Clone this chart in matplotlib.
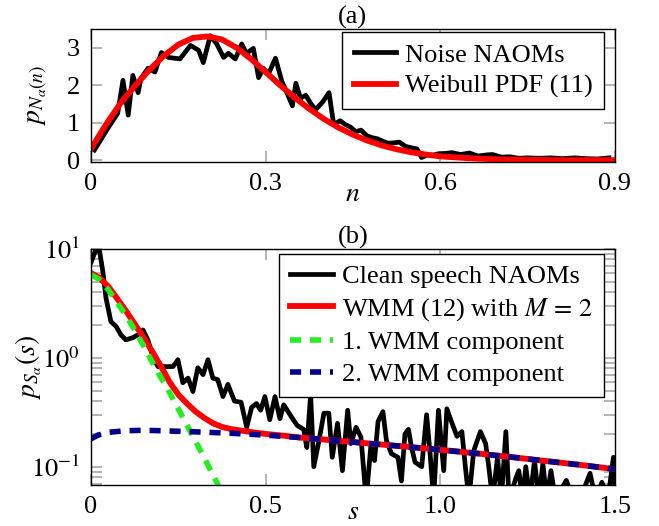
import matplotlib
matplotlib.use('Agg')
import matplotlib.pyplot as plt
from matplotlib.ticker import FixedLocator, LogLocator, NullFormatter, FixedFormatter

# ---------------- data: panel (a) ----------------
noise_n = [0.006, 0.029, 0.046, 0.055, 0.064, 0.072, 0.081, 0.086, 0.098, 0.11,
           0.121, 0.133, 0.153, 0.171, 0.185, 0.193, 0.205, 0.216, 0.228, 0.236,
           0.248, 0.259, 0.267, 0.279, 0.288, 0.296, 0.305, 0.317, 0.328, 0.338,
           0.346, 0.352, 0.36, 0.369, 0.378, 0.386, 0.398, 0.409, 0.417, 0.428,
           0.437, 0.446, 0.455, 0.464, 0.474, 0.483, 0.492, 0.502, 0.511, 0.52,
           0.53, 0.54, 0.55, 0.56, 0.568, 0.578, 0.587, 0.597, 0.61, 0.62,
           0.635, 0.65, 0.665, 0.68, 0.69, 0.705, 0.72, 0.735, 0.75, 0.77,
           0.79, 0.81, 0.83, 0.85, 0.87, 0.89]
noise_p = [0.27, 0.85, 1.25, 2.13, 1.2, 2.26, 1.8, 2.18, 2.45, 2.35,
           2.87, 2.74, 2.7, 3.06, 2.93, 2.6, 3.32, 3.1, 2.74, 2.85,
           2.7, 3.1, 2.85, 2.98, 2.2, 2.45, 2.3, 2.72, 2.1, 1.75,
           1.45, 2.05, 1.65, 1.73, 1.5, 1.35, 1.55, 1.8, 0.95, 1.05,
           0.95, 0.88, 0.76, 0.8, 0.65, 0.6, 0.57, 0.5, 0.45, 0.46,
           0.48, 0.37, 0.33, 0.3, 0.07, 0.14, 0.13, 0.17, 0.18, 0.2,
           0.15, 0.19, 0.11, 0.14, 0.15, 0.08, 0.09, 0.05, 0.06, 0.05,
           0.06, 0.04, 0.06, 0.04, 0.03, 0.06]

weib_n = [0.0, 0.025, 0.05, 0.075, 0.1, 0.125, 0.15, 0.175, 0.2, 0.225,
          0.25, 0.275, 0.3, 0.325, 0.35, 0.375, 0.4, 0.425, 0.45, 0.475,
          0.5, 0.525, 0.55, 0.575, 0.6, 0.65, 0.7, 0.75, 0.8, 0.85, 0.9]
weib_p = [0.3, 0.93, 1.5, 1.97, 2.4, 2.78, 3.08, 3.26, 3.3, 3.22,
          3.0, 2.7, 2.35, 2.0, 1.67, 1.37, 1.1, 0.87, 0.68, 0.52,
          0.39, 0.29, 0.21, 0.15, 0.1, 0.05, 0.02, 0.01, 0.0, 0.0, 0.0]

# ---------------- data: panel (b) ----------------
speech_s = [0.001, 0.015, 0.025, 0.034, 0.043, 0.057, 0.072, 0.086, 0.1, 0.12,
            0.134, 0.149, 0.163, 0.178, 0.192, 0.211, 0.235, 0.249, 0.263, 0.278,
            0.292, 0.306, 0.321, 0.335, 0.349, 0.363, 0.378, 0.392, 0.411, 0.43,
            0.446, 0.46, 0.474, 0.486, 0.498, 0.512, 0.527, 0.541, 0.552, 0.57,
            0.59, 0.609, 0.618, 0.629, 0.638, 0.653, 0.667, 0.681, 0.691, 0.706,
            0.72, 0.735, 0.744, 0.759, 0.773, 0.788, 0.802, 0.812, 0.822, 0.836,
            0.846, 0.86, 0.879, 0.889, 0.899, 0.909, 0.918, 0.928, 0.947, 0.961,
            0.971, 0.981, 0.995, 1.01, 1.019, 1.034, 1.048, 1.062, 1.072, 1.082,
            1.096, 1.115, 1.13, 1.139, 1.15, 1.164, 1.175, 1.188, 1.197, 1.217,
            1.225, 1.235, 1.245, 1.257, 1.27, 1.282, 1.294, 1.305, 1.317, 1.33,
            1.361, 1.38, 1.4, 1.429, 1.445, 1.463, 1.48, 1.496, 1.5]
speech_p = [7.6, 10.0, 9.4, 6.2, 3.55, 2.15, 1.94, 1.62, 1.46, 1.53,
            1.62, 1.8, 1.46, 1.0, 0.83, 0.83, 0.83, 0.96, 0.59, 0.65,
            0.49, 0.81, 0.70, 0.96, 0.65, 0.63, 0.44, 0.57, 0.40, 0.39,
            0.23, 0.35, 0.38, 0.33, 0.44, 0.27, 0.44, 0.276, 0.37, 0.3,
            0.24, 0.22, 0.15, 0.46, 0.1, 0.174, 0.31, 0.31, 0.122, 0.25,
            0.092, 0.33, 0.163, 0.23, 0.187, 0.05, 0.163, 0.114, 0.26, 0.32,
            0.174, 0.132, 0.122, 0.074, 0.2, 0.22, 0.15, 0.11, 0.1, 0.3,
            0.132, 0.05, 0.33, 0.092, 0.34, 0.25, 0.19, 0.21, 0.1, 0.05,
            0.14, 0.21, 0.163, 0.1, 0.05, 0.122, 0.05, 0.21, 0.05, 0.079,
            0.092, 0.05, 0.1, 0.05, 0.114, 0.05, 0.107, 0.05, 0.092, 0.05,
            0.075, 0.05, 0.05, 0.087, 0.05, 0.072, 0.05, 0.122, 0.07]

wmm_s = [0.0, 0.025, 0.05, 0.075, 0.1, 0.125, 0.15, 0.175, 0.2, 0.225,
         0.25, 0.275, 0.3, 0.325, 0.35, 0.375, 0.4, 0.45, 0.5, 0.55,
         0.6, 0.7, 0.8, 0.9, 1.0, 1.1, 1.2, 1.3, 1.4, 1.5]
wmm_p = [6.0, 5.4, 4.5, 3.5, 2.7, 2.05, 1.55, 1.15, 0.84, 0.6,
         0.46, 0.38, 0.32, 0.28, 0.25, 0.232, 0.222, 0.21, 0.2, 0.193,
         0.185, 0.174, 0.163, 0.153, 0.143, 0.133, 0.123, 0.113, 0.104, 0.095]

comp1_s = [0.0, 0.025, 0.05, 0.075, 0.1, 0.125, 0.15, 0.175, 0.2, 0.225,
           0.25, 0.275, 0.3, 0.325, 0.35, 0.375]
comp1_p = [5.8, 5.2, 4.2, 3.2, 2.45, 1.8, 1.3, 0.92, 0.66, 0.48,
           0.34, 0.24, 0.17, 0.12, 0.083, 0.058]

comp2_s = [0.0, 0.02, 0.05, 0.1, 0.15, 0.2, 0.3, 0.4, 0.5, 0.6,
           0.7, 0.8, 0.9, 1.0, 1.1, 1.2, 1.3, 1.4, 1.5]
comp2_p = [0.18, 0.195, 0.207, 0.214, 0.216, 0.214, 0.209, 0.203, 0.195, 0.185,
           0.174, 0.163, 0.153, 0.143, 0.133, 0.123, 0.113, 0.104, 0.095]

# ---------------- style ----------------
FS = 19
plt.rcParams['font.family'] = ['Liberation Serif', 'DejaVu Serif']
plt.rcParams['mathtext.fontset'] = 'stix'
plt.rcParams['font.size'] = FS

RED = '#ff0000'
GREEN = '#22ee22'
BLUE = '#00008c'
TICKC = '#a8a8a8'

fig = plt.figure(figsize=(6.59, 5.26), dpi=100)
ax1 = fig.add_axes([0.138, 0.692, 0.795, 0.253])
ax2 = fig.add_axes([0.138, 0.078, 0.795, 0.449])

for ax in (ax1, ax2):
    ax.tick_params(which='both', direction='in', length=8, width=1.2, color=TICKC,
                   top=True, right=True, labelsize=FS, pad=8)
    for sp in ax.spines.values():
        sp.set_linewidth(1.0)
        sp.set_color('black')

legkw = dict(loc='upper right', borderaxespad=0, fancybox=False, framealpha=1,
             edgecolor='black', fontsize=FS, handlelength=1.6, handletextpad=0.35,
             labelspacing=0.3, borderpad=0.42)

# ---- panel (a)
ax1.plot(noise_n, noise_p, color='black', lw=3.4, label='Noise NAOMs')
ax1.plot(weib_n, weib_p, color=RED, lw=4.2, label='Weibull PDF (11)')
ax1.set_xlim(0, 0.9)
ax1.set_ylim(-0.05, 3.5)
ax1.set_xticks([0, 0.3, 0.6, 0.9])
ax1.set_xticklabels(['0', '0.3', '0.6', '0.9'])
ax1.set_yticks([0, 1, 2, 3])
ax1.set_yticklabels(['0', '1', '2', '3'])
ax1.set_title('(a)', fontsize=FS, pad=2)
ax1.set_xlabel(r'$n$', fontsize=FS + 1)
ax1.xaxis.set_label_coords(0.5, -0.15)
ax1.set_ylabel(r'$p_{N_\alpha(n)}$', fontsize=FS + 1)
ax1.yaxis.set_label_coords(-0.078, 0.5)
leg1 = ax1.legend(bbox_to_anchor=(0.979, 0.977), **legkw)
leg1.get_frame().set_linewidth(1.0)

# ---- panel (b)
ax2.plot(speech_s, speech_p, color='black', lw=3.4, label='Clean speech NAOMs')
ax2.plot(wmm_s, wmm_p, color=RED, lw=4.2, label=r'WMM (12) with $M\,=\,2$')
ax2.plot(comp1_s, comp1_p, color=GREEN, lw=4.0, linestyle=(0, (2.0, 1.6)),
         label='1. WMM component')
ax2.plot(comp2_s, comp2_p, color=BLUE, lw=4.0, linestyle=(0, (2.0, 1.6)),
         label='2. WMM component')
ax2.set_yscale('log')
ax2.set_xlim(0, 1.5)
ax2.set_ylim(0.068, 10)
ax2.set_xticks([0, 0.5, 1.0, 1.5])
ax2.set_xticklabels(['0', '0.5', '1.0', '1.5'])
ax2.yaxis.set_major_locator(FixedLocator([0.1, 1, 10]))
ax2.yaxis.set_major_formatter(FixedFormatter([r'$10^{-1}$', r'$10^{0}$', r'$10^{1}$']))
ax2.yaxis.set_minor_locator(LogLocator(base=10, subs=range(2, 10)))
ax2.yaxis.set_minor_formatter(NullFormatter())
ax2.set_title('(b)', fontsize=FS, pad=3)
ax2.set_xlabel(r'$s$', fontsize=FS + 1)
ax2.xaxis.set_label_coords(0.5, -0.062)
ax2.set_ylabel(r'$p_{S_\alpha}(s)$', fontsize=FS + 1)
ax2.yaxis.set_label_coords(-0.09, 0.5)
leg2 = ax2.legend(bbox_to_anchor=(0.979, 0.979), **legkw)
leg2.get_frame().set_linewidth(1.0)

fig.savefig('out.png', dpi=100)
